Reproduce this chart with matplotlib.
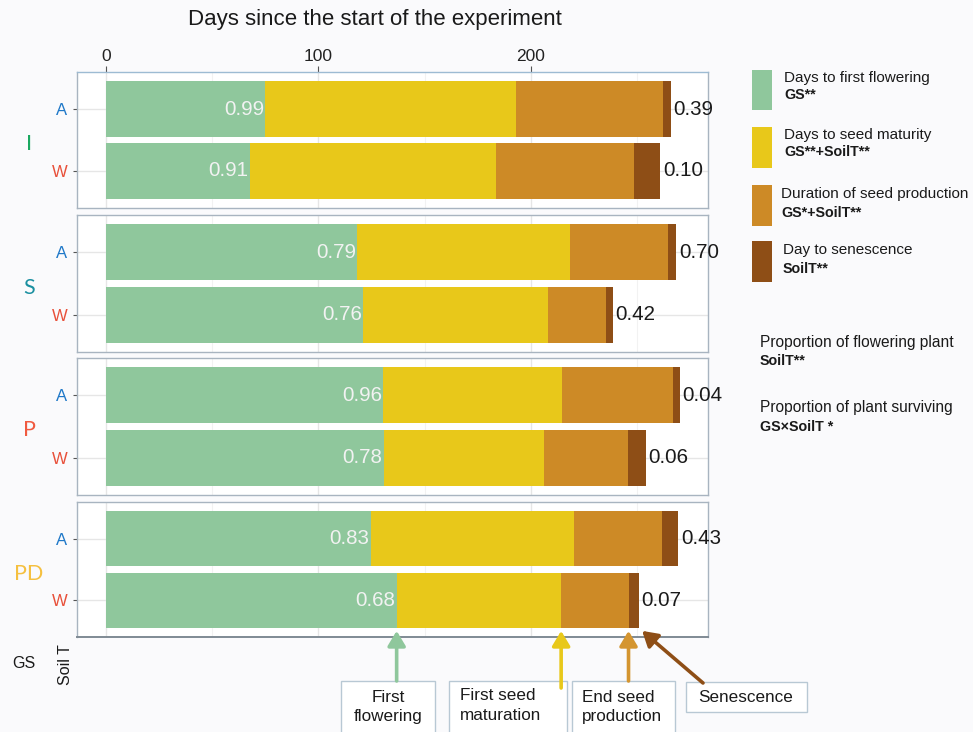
import matplotlib
matplotlib.use("Agg")
import matplotlib.pyplot as plt
from matplotlib.patches import Rectangle, FancyArrowPatch
from matplotlib import font_manager
import numpy as np

plt.rcParams['font.family'] = ['Liberation Sans', 'DejaVu Sans']
_names = {f.name for f in font_manager.fontManager.ttflist}
if 'Liberation Sans Narrow' in _names:
    VAL_FAMILY = ['Liberation Sans Narrow', 'Liberation Sans']
    VAL_SIZE = 17.5
else:
    VAL_FAMILY = ['Liberation Sans', 'DejaVu Sans']
    VAL_SIZE = 14.8

# ---------------- data ----------------
groups = ["I", "S", "P", "PD"]
soil_levels = ["A", "W"]
# cumulative days (end of each phase)
flowering_day = {"I": [75.0, 67.7], "S": [118.2, 121.2], "P": [130.3, 130.7], "PD": [124.5, 136.8]}
maturity_day = {"I": [192.8, 183.5], "S": [218.5, 208.1], "P": [214.6, 205.9], "PD": [220.2, 214.2]}
end_prod_day = {"I": [262.3, 248.3], "S": [264.5, 235.3], "P": [266.9, 245.7], "PD": [261.7, 245.9]}
senesc_day = {"I": [265.8, 260.8], "S": [268.4, 238.5], "P": [269.9, 253.9], "PD": [269.4, 250.8]}
prop_flowering = {"I": ["0.99", "0.91"], "S": ["0.79", "0.76"], "P": ["0.96", "0.78"], "PD": ["0.83", "0.68"]}
prop_surviving = {"I": ["0.39", "0.10"], "S": ["0.70", "0.42"], "P": ["0.04", "0.06"], "PD": ["0.43", "0.07"]}
x_ticks = [0, 100, 200]

legend_titles = ["Days to first flowering", "Days to seed maturity",
                 "Duration of seed production", "Day to senescence"]
legend_stats = ["GS**", "GS**+SoilT**", "GS*+SoilT**", "SoilT**"]

# ---------------- style ----------------
C_GREEN = "#8FC79C"
C_YELLOW = "#E8C81A"
C_ORANGE = "#CD8A26"
C_BROWN = "#8E4E16"
seg_colors = [C_GREEN, C_YELLOW, C_ORANGE, C_BROWN]
group_colors = {"I": "#1AA860", "S": "#1A8FA0", "P": "#F05A40", "PD": "#F5C040"}
soil_colors = {"A": "#1F78C8", "W": "#E8503A"}
BG = "#FAFAFC"

W, H = 973, 732
fig = plt.figure(figsize=(W / 100, H / 100), dpi=100, facecolor=BG)


def fx(px):
    return px / W


def fy(py):
    return 1 - py / H


panel_px = {"I": (72, 208), "S": (215, 352), "P": (358, 495), "PD": (502, 637)}
left_px, right_px = 77, 708
xlim = (-13.6, 283.3)

axes = {}
for gi, g in enumerate(groups):
    top, bot = panel_px[g]
    ax = fig.add_axes([fx(left_px), fy(bot), fx(right_px - left_px), (bot - top) / H])
    axes[g] = ax
    ax.set_facecolor("white")
    ax.set_xlim(*xlim)
    ax.set_ylim(-0.6, 1.6)
    for xv in [50, 150, 250]:
        ax.axvline(xv, color="#F2F2F2", lw=0.8, zorder=0)
    for xv in [0, 100, 200]:
        ax.axvline(xv, color="#E6E6E6", lw=1.0, zorder=0)
    for yv in [0, 1]:
        ax.axhline(yv, color="#E6E6E6", lw=1.0, zorder=0)
    ypos = [1, 0]  # A on top, W below
    for si, s in enumerate(soil_levels):
        ends = [flowering_day[g][si], maturity_day[g][si], end_prod_day[g][si], senesc_day[g][si]]
        starts = [0] + ends[:-1]
        for k in range(4):
            ax.barh(ypos[si], ends[k] - starts[k], left=starts[k], height=0.9,
                    color=seg_colors[k], edgecolor="none", zorder=2)
        ax.text(flowering_day[g][si] - 0.5, ypos[si], prop_flowering[g][si],
                ha="right", va="center", color="#F2F2F2", fontsize=VAL_SIZE,
                family=VAL_FAMILY, zorder=3)
        ax.text(senesc_day[g][si] + 1.3, ypos[si], prop_surviving[g][si],
                ha="left", va="center", color="#1A1A1A", fontsize=VAL_SIZE,
                family=VAL_FAMILY, zorder=3, clip_on=False)
    ax.set_yticks(ypos)
    ax.set_yticklabels(soil_levels, fontsize=12)
    for lab, s in zip(ax.get_yticklabels(), soil_levels):
        lab.set_color(soil_colors[s])
    ax.tick_params(axis="y", length=3, color="#555555", pad=4)
    for sp in ax.spines.values():
        sp.set_color("#A8B4C0")
        sp.set_linewidth(1.0)
    if gi == 0:
        ax.xaxis.set_ticks_position("top")
        ax.set_xticks(x_ticks)
        ax.set_xticklabels([str(t) for t in x_ticks], fontsize=12.5)
        ax.tick_params(axis="x", length=4, color="#555555", pad=2, labelcolor="#222222")
        ax.spines["top"].set_color("#9DBBD3")
    else:
        ax.set_xticks([])
    if gi == len(groups) - 1:
        ax.spines["bottom"].set_color("#7F8A94")
        ax.spines["bottom"].set_linewidth(1.4)
    # group label
    fig.text(fx(29), fy((top + bot) / 2 + 4), g, ha="center", va="center",
             fontsize=15.5, color=group_colors[g], family=["Lato", "DejaVu Sans"])

fig.text(fx(375), fy(19), "Days since the start of the experiment",
         ha="center", va="center", fontsize=16, color="#1A1A1A")

# GS / Soil T
fig.text(fx(24), fy(663), "GS", ha="center", va="center", fontsize=11.5, color="#1A1A1A")
fig.text(fx(66), fy(665), "Soil T", ha="center", va="center", fontsize=11.5,
         color="#1A1A1A", rotation=90)

# ---------------- legend ----------------
leg_boxes = [(70, 110), (127, 168), (185, 226), (241, 282)]
leg_text_x = [784, 784, 781, 783]
leg_title_y = [78, 135, 194, 250]
leg_stat_y = [95, 152, 213, 269]
for k in range(4):
    t, b = leg_boxes[k]
    fig.patches.append(Rectangle((fx(752), fy(b)), fx(20), (b - t) / H,
                                 transform=fig.transFigure, facecolor=seg_colors[k],
                                 edgecolor="none"))
    fig.text(fx(leg_text_x[k]), fy(leg_title_y[k]), legend_titles[k], ha="left", va="center",
             fontsize=11, color="#1A1A1A")
    fig.text(fx(leg_text_x[k]), fy(leg_stat_y[k]), legend_stats[k], ha="left", va="center",
             fontsize=10.3, color="#1A1A1A", fontweight="bold")

fig.text(fx(760), fy(342), "Proportion of flowering plant", ha="left", va="center",
         fontsize=11.2, color="#1A1A1A")
fig.text(fx(760), fy(361), "SoilT**", ha="left", va="center", fontsize=10.3,
         color="#1A1A1A", fontweight="bold")
fig.text(fx(760), fy(408), "Proportion of plant surviving", ha="left", va="center",
         fontsize=11.2, color="#1A1A1A")
fig.text(fx(760), fy(427), "GS\u00d7SoilT *", ha="left", va="center", fontsize=10.3,
         color="#1A1A1A", fontweight="bold")

# ---------------- bottom annotations ----------------
axPD = axes["PD"]
boxes = [(341, 681, 435, 740), (449, 681, 567, 740), (572, 681, 675, 740), (686, 682, 807, 712)]
for (l, t, r, b) in boxes:
    fig.patches.append(Rectangle((fx(l), fy(b)), fx(r - l), (b - t) / H,
                                 transform=fig.transFigure, facecolor="white",
                                 edgecolor="#B8C8D4", lw=1.0, clip_on=False))
BOX_FS = 12.3
fig.text(fx(388), fy(697), "First", ha="center", va="center", fontsize=BOX_FS, color="#1A1A1A")
fig.text(fx(388), fy(717), "flowering", ha="center", va="center", fontsize=BOX_FS, color="#1A1A1A")
fig.text(fx(460), fy(696), "First seed", ha="left", va="center", fontsize=BOX_FS, color="#1A1A1A")
fig.text(fx(460), fy(716), "maturation", ha="left", va="center", fontsize=BOX_FS, color="#1A1A1A")
fig.text(fx(582), fy(697), "End seed", ha="left", va="center", fontsize=BOX_FS, color="#1A1A1A")
fig.text(fx(582), fy(717), "production", ha="left", va="center", fontsize=BOX_FS, color="#1A1A1A")
fig.text(fx(746), fy(697), "Senescence", ha="center", va="center", fontsize=BOX_FS, color="#1A1A1A")

# arrows pointing at the PD-W phase ends
wi = 1
targets = [flowering_day["PD"][wi], maturity_day["PD"][wi], end_prod_day["PD"][wi], senesc_day["PD"][wi]]
tails_px = [None, None, None, (703, 683)]
tail_y = [681, 688, 681, 683]
arrow_cols = ["#8FC79C", "#E8C81A", "#D49530", "#8E4E16"]
for k in range(4):
    xd = targets[k]
    if k == 3:
        xd = xd + 1.5
    tip_disp = axPD.transData.transform((xd, -0.5))
    tip_fig = fig.transFigure.inverted().transform(tip_disp)
    if tails_px[k] is None:
        tail_fig = (tip_fig[0], fy(tail_y[k]))
    else:
        tail_fig = (fx(tails_px[k][0]), fy(tails_px[k][1]))
    arr = FancyArrowPatch(tail_fig, tip_fig, transform=fig.transFigure,
                          arrowstyle="-|>,head_length=5,head_width=3",
                          color=arrow_cols[k], lw=2.6, shrinkA=0, shrinkB=0,
                          mutation_scale=1.8)
    fig.patches.append(arr)

fig.savefig("out.png", dpi=100, facecolor=BG)
